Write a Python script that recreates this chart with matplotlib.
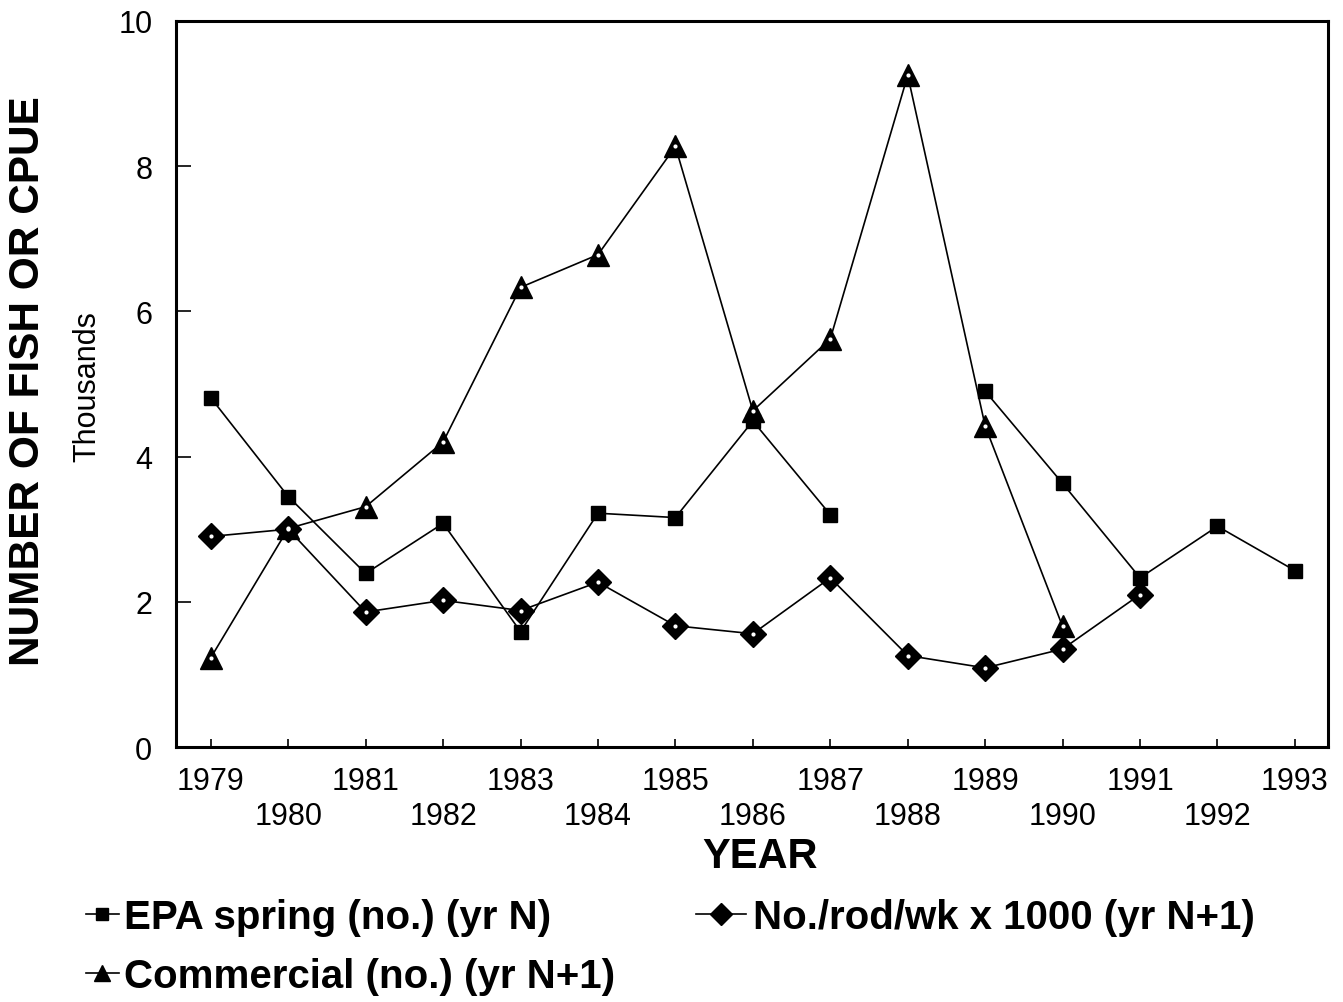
import numpy as np
import matplotlib
matplotlib.use('Agg')
import matplotlib.pyplot as plt
from matplotlib.lines import Line2D

plt.rcParams['font.family'] = ['Liberation Sans', 'DejaVu Sans']

# years on the x axis
years = list(range(1979, 1994))

# EPA spring counts (thousands), yr N -- no value for 1988
epa_spring = [4.81, 3.45, 2.39, 3.08, 1.59, 3.22, 3.16, 4.49, 3.20,
              np.nan, 4.90, 3.63, 2.33, 3.04, 2.43]

# commercial counts (thousands), yr N+1 -- ends in 1990
commercial = [1.23, 3.01, 3.31, 4.20, 6.33, 6.78, 8.27, 4.63, 5.62,
              9.25, 4.42, 1.66]

# CPUE, no./rod/wk x 1000, yr N+1 -- ends in 1991
rod_cpue = [2.90, 3.00, 1.86, 2.02, 1.88, 2.27, 1.67, 1.56, 2.33,
            1.26, 1.09, 1.35, 2.10]

labels = ['EPA spring (no.) (yr N)',
          'Commercial (no.) (yr N+1)',
          'No./rod/wk x 1000 (yr N+1)']

fig = plt.figure(figsize=(13.43, 10.03), dpi=100)
ax = fig.add_axes([0.131, 0.2542, 0.858, 0.724])

lw = 1.2
yr_com = years[:len(commercial)]
yr_rod = years[:len(rod_cpue)]

ax.plot(years, epa_spring, color='black', lw=lw, marker='s', ms=10,
        mfc='black', mec='black', zorder=3)
ax.plot(yr_com, commercial, color='black', lw=lw, marker='^', ms=16,
        mfc='black', mec='black', zorder=3)
ax.plot(yr_rod, rod_cpue, color='black', lw=lw, marker='D', ms=13,
        mfc='black', mec='black', zorder=3)
# small white centres of the open-looking markers
ax.plot(yr_com, commercial, ls='none', marker='o', ms=3, mfc='white',
        mec='none', zorder=4)
ax.plot(yr_rod, rod_cpue, ls='none', marker='o', ms=3, mfc='white',
        mec='none', zorder=4)

ax.set_xlim(1978.55, 1993.43)
ax.set_ylim(0, 10)

ax.set_xticks(years)
ax.set_xticklabels([str(y) if i % 2 == 0 else '\n' + str(y)
                    for i, y in enumerate(years)], fontsize=22)
ax.set_yticks([0, 2, 4, 6, 8, 10])
ax.set_yticklabels(['0', '2', '4', '6', '8', '10'], fontsize=22)
ax.tick_params(axis='x', direction='in', length=6, width=1.2, pad=14)
ax.tick_params(axis='y', direction='in', length=11, width=1.2, pad=17)
for s in ax.spines.values():
    s.set_linewidth(2.2)

fig.text(0.021, 0.62, 'NUMBER OF FISH OR CPUE', rotation=90,
         fontsize=30.5, fontweight='bold', ha='center', va='center')
fig.text(0.065, 0.615, 'Thousands', rotation=90, fontsize=22,
         ha='center', va='center')
fig.text(0.566, 0.146, 'YEAR', fontsize=30, fontweight='bold',
         ha='center', va='center')

leg_font = {'size': 29, 'weight': 'bold'}
h_epa = Line2D([], [], color='black', lw=lw, marker='s', ms=9, mfc='black')
h_com = Line2D([], [], color='black', lw=lw, marker='^', ms=12, mfc='black')
h_rod = Line2D([], [], color='black', lw=lw, marker='D', ms=11, mfc='black')

leg1 = fig.legend([h_epa, h_com], labels[:2], loc='upper left',
                  bbox_to_anchor=(0.0517, 0.120), frameon=False,
                  prop=leg_font, handlelength=0.82, handletextpad=0.13,
                  labelspacing=0.52, borderaxespad=0)
leg2 = fig.legend([h_rod], labels[2:], loc='upper left',
                  bbox_to_anchor=(0.506, 0.120), frameon=False,
                  prop=leg_font, handlelength=1.25, handletextpad=0.17,
                  borderaxespad=0)

fig.savefig('out.png', dpi=100)
